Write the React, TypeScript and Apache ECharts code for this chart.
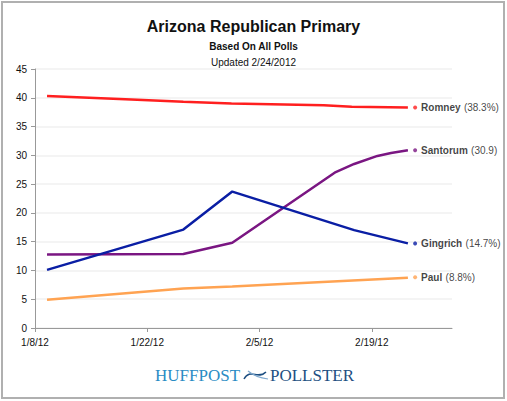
import React, { useEffect, useRef } from "react";
import * as echarts from "echarts";

// x values are days since 1/8/12
const romney: [number, number][] = [[1.5, 40.3], [12, 39.7], [18.5, 39.3], [24.5, 39.0], [36, 38.7], [39.5, 38.45], [46.5, 38.3]];
const santorum: [number, number][] = [[1.5, 12.75], [18.5, 12.85], [24.6, 14.8], [37.5, 27.1], [39.8, 28.5], [42.7, 29.9], [44.4, 30.4], [46.5, 30.9]];
const gingrich: [number, number][] = [[1.5, 10.1], [18.5, 17.1], [24.6, 23.7], [39.8, 17.0], [46.5, 14.7]];
const paul: [number, number][] = [[1.5, 4.9], [18.5, 6.85], [24.6, 7.2], [46.5, 8.75]];

const names = ["Romney", "Santorum", "Gingrich", "Paul"];
const endValues = [38.3, 30.9, 14.7, 8.8];
const endTexts = ["(38.3%)", "(30.9)", "(14.7%)", "(8.8%)"];
const colors = ["#ff1f1f", "#7a1682", "#0a1ea4", "#ffa352"];
const labelDay = 47.4;

const FONT = "'Liberation Sans', Arial, sans-serif";
const SERIF = "'Liberation Serif', 'DejaVu Serif', serif";

function fmtDate(v: number): string {
  const d = new Date(Date.UTC(2012, 0, 8) + Math.round(v) * 86400000);
  return `${d.getUTCMonth() + 1}/${d.getUTCDate()}/12`;
}

export default function App() {
  const ref = useRef<HTMLDivElement>(null);
  useEffect(() => {
    if (!ref.current) return;
    const chart = echarts.init(ref.current, undefined, { renderer: "svg" });
    const lineSeries = [romney, santorum, gingrich, paul].map((data, i) => ({
      type: "line",
      name: names[i],
      data,
      showSymbol: false,
      symbol: "none",
      lineStyle: { color: colors[i], width: 2.5 },
      z: 3,
    }));
    const labelSeries = {
      type: "scatter",
      symbol: "circle",
      symbolSize: 4,
      data: names.map((n, i) => ({
        value: [labelDay, endValues[i]],
        name: n,
        itemStyle: { color: colors[i] },
        label: {
          show: true,
          position: "right",
          distance: 4,
          formatter: `{b|${n}} {n|${endTexts[i]}}`,
          rich: {
            b: { fontFamily: FONT, fontSize: 10, fontWeight: "bold", color: "#111" },
            n: { fontFamily: FONT, fontSize: 10, color: "#111" },
          },
        },
      })),
      z: 4,
    };
    chart.setOption({
      animation: false,
      backgroundColor: "#fff",
      title: [
        {
          text: "Arizona Republican Primary",
          left: "center",
          top: 13,
          textStyle: { fontFamily: FONT, fontSize: 16, fontWeight: "bold", color: "#111" },
        },
        {
          text: "Based On All Polls",
          left: "center",
          top: 36,
          textStyle: { fontFamily: FONT, fontSize: 10, fontWeight: "bold", color: "#111" },
        },
        {
          text: "Updated 2/24/2012",
          left: "center",
          top: 52,
          textStyle: { fontFamily: FONT, fontSize: 10, fontWeight: "normal", color: "#111" },
        },
      ],
      grid: { left: 35, right: 55, top: 69, bottom: 73 },
      xAxis: {
        type: "value",
        min: 0,
        max: 52,
        interval: 14,
        axisLine: { show: true, lineStyle: { color: "#999", width: 1 } },
        axisTick: { show: true, length: 4, lineStyle: { color: "#999" } },
        splitLine: { show: false },
        axisLabel: {
          formatter: (v: number) => fmtDate(v),
          fontFamily: FONT,
          fontSize: 10,
          color: "#111",
          margin: 9,
          showMaxLabel: false,
        },
      },
      yAxis: {
        type: "value",
        min: 0,
        max: 45,
        interval: 5,
        axisLine: { show: true, lineStyle: { color: "#999", width: 1 } },
        axisTick: { show: true, length: 4, lineStyle: { color: "#999" } },
        splitLine: { show: true, lineStyle: { color: "#f0f0f0", width: 1.5 } },
        axisLabel: { fontFamily: FONT, fontSize: 10, color: "#111", margin: 8 },
      },
      graphic: [
        {
          type: "rect",
          shape: { x: 2, y: 2, width: 502, height: 396 },
          style: { fill: "none", stroke: "#b0b0b0", lineWidth: 2 },
          silent: true,
        },
        {
          type: "text",
          left: 155,
          top: 367,
          style: { text: "HUFFPOST", fontFamily: SERIF, fontSize: 17, fill: "#2a8cc4" },
        },
        {
          type: "text",
          left: 270,
          top: 367,
          style: { text: "POLLSTER", fontFamily: SERIF, fontSize: 17, fill: "#1d4f82" },
        },
        {
          type: "bezierCurve",
          shape: { x1: 244, y1: 379, x2: 266, y2: 372, cpx1: 250, cpy1: 368, cpx2: 258, cpy2: 380 },
          style: { stroke: "#1d4f82", lineWidth: 1.5, fill: "none" },
        },
        {
          type: "bezierCurve",
          shape: { x1: 248, y1: 371, x2: 268, y2: 379, cpx1: 254, cpy1: 376, cpx2: 260, cpy2: 378 },
          style: { stroke: "#7fa9cf", lineWidth: 1.2, fill: "none" },
        },
      ],
      series: [...lineSeries, labelSeries],
    });
    return () => chart.dispose();
  }, []);
  return (
    <div
      ref={ref}
      style={{ position: "absolute", left: 0, top: 0, width: 507, height: 401 }}
    />
  );
}
